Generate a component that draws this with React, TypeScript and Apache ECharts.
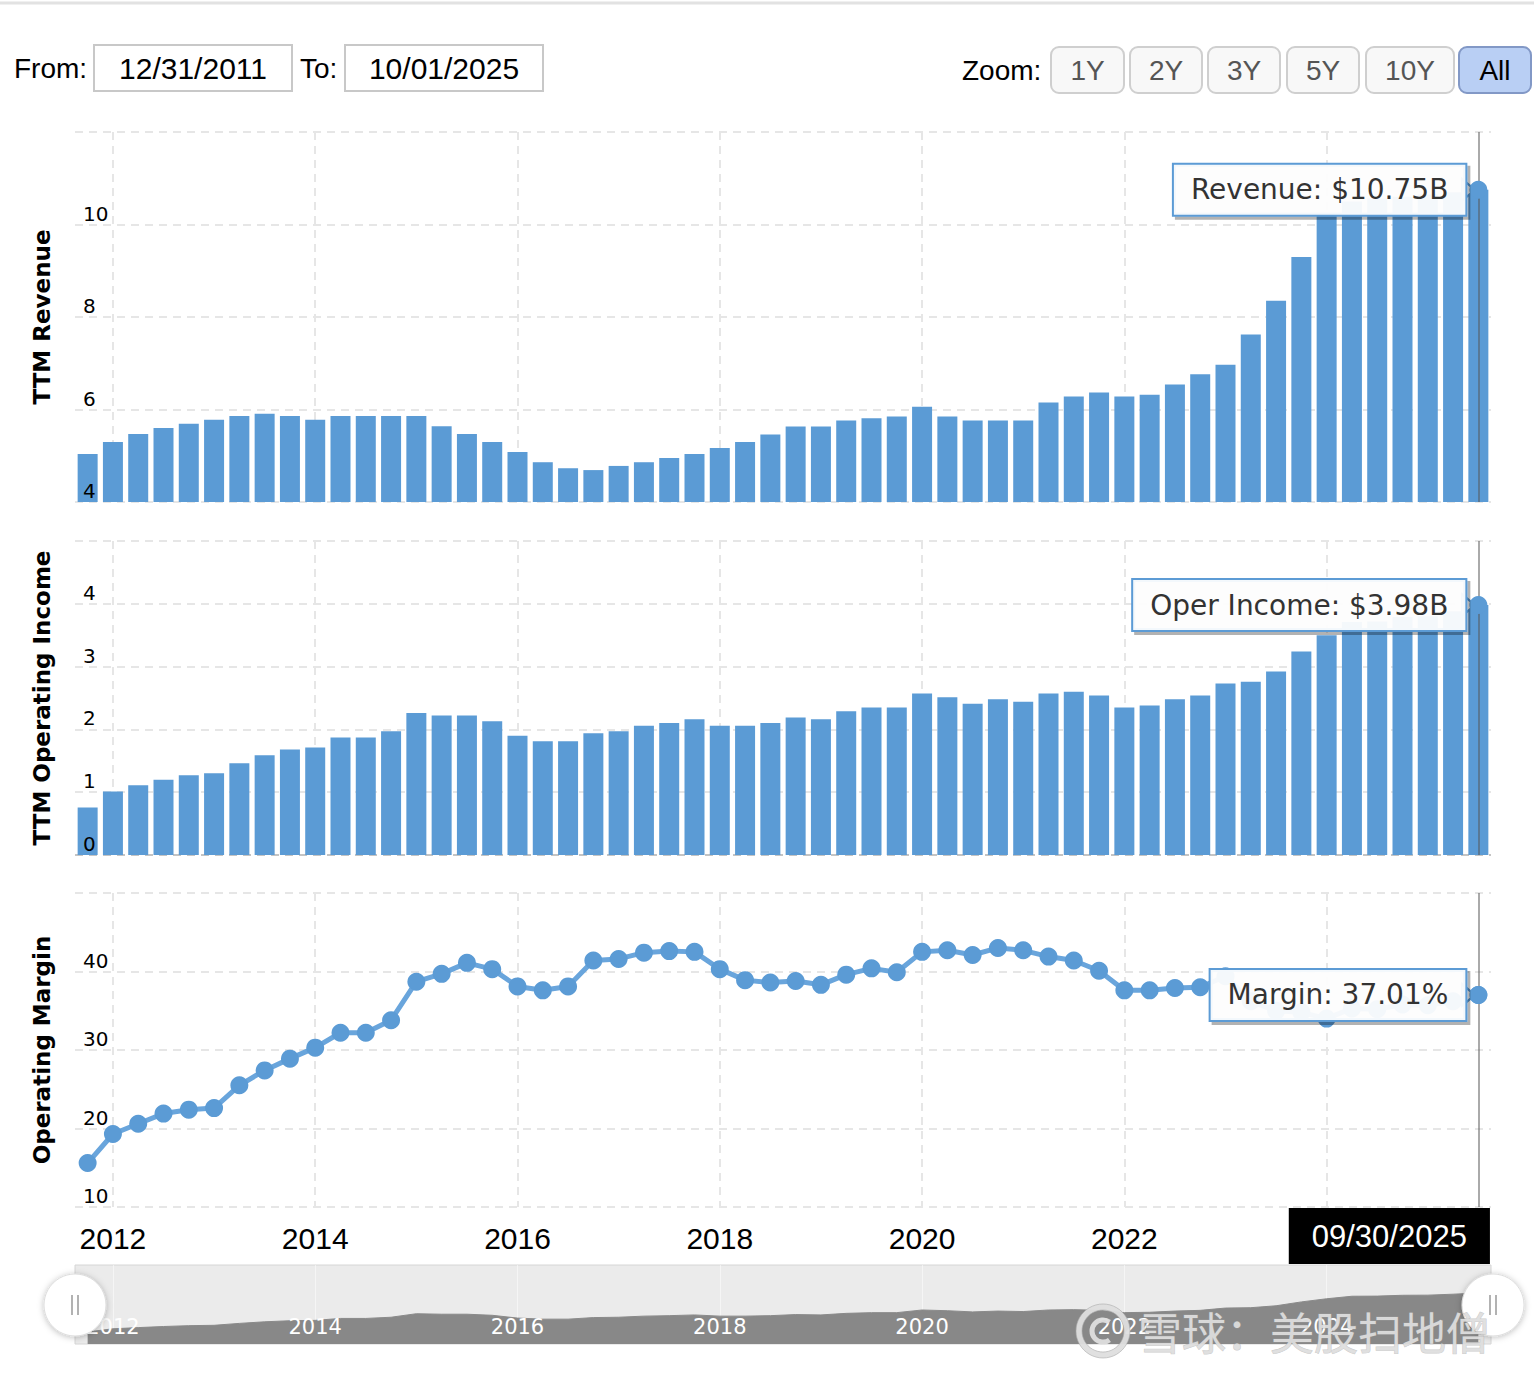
import React, { useEffect, useRef } from 'react';
import * as echarts from 'echarts';

// ---- Data ----
const quarterEnds: string[] = (() => {
  const out: string[] = ['12/31/2011'];
  for (let y = 2012; y <= 2025; y++) {
    for (const md of ['03/31', '06/30', '09/30', '12/31']) {
      if (y === 2025 && md === '12/31') break;
      out.push(`${md}/${y}`);
    }
  }
  return out;
})();

// TTM revenue, $B
const revenue = [
  5.04, 5.30, 5.47, 5.60, 5.69, 5.78, 5.86, 5.91, 5.86, 5.78,
  5.86, 5.86, 5.86, 5.86, 5.64, 5.47, 5.30, 5.08, 4.86, 4.73,
  4.69, 4.78, 4.86, 4.95, 5.04, 5.17, 5.30, 5.46, 5.63, 5.63,
  5.76, 5.81, 5.85, 6.06, 5.85, 5.76, 5.76, 5.76, 6.15, 6.28,
  6.37, 6.28, 6.32, 6.54, 6.76, 6.97, 7.62, 8.35, 9.30, 10.22,
  10.50, 10.56, 10.60, 10.65, 10.70, 10.75,
];

// TTM operating income, $B
const operatingIncome = [
  0.755, 1.01, 1.11, 1.20, 1.27, 1.30, 1.46, 1.59, 1.68, 1.71,
  1.87, 1.87, 1.97, 2.26, 2.22, 2.22, 2.13, 1.90, 1.81, 1.81,
  1.94, 1.97, 2.06, 2.10, 2.16, 2.06, 2.06, 2.10, 2.19, 2.16,
  2.29, 2.35, 2.35, 2.57, 2.51, 2.41, 2.48, 2.44, 2.57, 2.60,
  2.54, 2.35, 2.38, 2.48, 2.54, 2.73, 2.76, 2.92, 3.24, 3.50,
  3.71, 3.72, 3.79, 3.80, 3.88, 3.98,
];

// Operating margin, %
const operatingMargin = [
  15.6, 19.3, 20.6, 21.9, 22.4, 22.6, 25.5, 27.4, 28.9, 30.3,
  32.2, 32.2, 33.8, 38.7, 39.7, 41.1, 40.3, 38.1, 37.6, 38.1,
  41.4, 41.6, 42.4, 42.6, 42.5, 40.3, 38.9, 38.6, 38.8, 38.3,
  39.6, 40.4, 39.9, 42.5, 42.7, 42.1, 43.0, 42.7, 41.9, 41.4,
  40.1, 37.6, 37.6, 37.9, 38.0, 39.4, 36.2, 35.0, 34.8, 34.0,
  35.3, 35.2, 35.8, 35.7, 36.2, 37.01,
];

const panelAxes = [
  { name: 'TTM Revenue', min: 4, max: 12, interval: 2 },
  { name: 'TTM Operating Income', min: 0, max: 5, interval: 1 },
  { name: 'Operating Margin', min: 10, max: 50, interval: 10 },
];

const rangeFrom = '12/31/2011';
const rangeTo = '10/01/2025';
const zoomButtons = ['1Y', '2Y', '3Y', '5Y', '10Y', 'All'];
const watermark = '雪球：美股扫地僧';

// ---- Styles ----
const BLUE = '#5b9bd5';
const LINE_BLUE = '#69a5dc';
const GRID_COLOR = '#e6e6e6';
const LABEL_FONT = 'DejaVu Sans, Verdana, sans-serif';
const UI_FONT = 'Liberation Sans, Arial, sans-serif';
const CJK_FONT = 'Noto Sans CJK SC, sans-serif';

const isYearTick = (i: number) => i % 8 === 1;

function calloutLabel(text: string, distance: number) {
  return {
    show: true,
    position: 'left',
    distance,
    formatter: text,
    fontFamily: LABEL_FONT,
    fontSize: 28,
    lineHeight: 32,
    color: '#333',
    backgroundColor: 'rgba(255,255,255,0.93)',
    borderColor: BLUE,
    borderWidth: 2,
    padding: [9, 17, 9, 17],
    shadowColor: 'rgba(0,0,0,0.3)',
    shadowBlur: 0,
    shadowOffsetX: 3,
    shadowOffsetY: 3,
  };
}

function buildOption() {
  const last = quarterEnds.length - 1;
  const lastCat = quarterEnds[last];
  const halfSteps = Array.from({ length: quarterEnds.length * 2 + 1 }, (_, i) => `h${i}`);

  const grids = [
    { left: 75, right: 43, top: 132, height: 370 },
    { left: 75, right: 43, top: 541, height: 314 },
    { left: 75, right: 43, top: 893, height: 314 },
    {
      left: 75, right: 43, top: 1265, height: 79, show: true,
      backgroundColor: '#ebebeb', borderWidth: 1, borderColor: '#d6d6d6',
    },
  ];

  const mainX = [0, 1, 2, 3].map((g) => ({
    type: 'category',
    gridIndex: g,
    data: quarterEnds,
    boundaryGap: true,
    z: g === 3 ? 5 : 0,
    axisLine: { show: false },
    axisTick: { show: false },
    splitLine: { show: false },
    axisLabel:
      g === 2
        ? {
            show: true, interval: (i: number) => isYearTick(i),
            formatter: (v: string) => v.slice(-4),
            fontFamily: UI_FONT, fontSize: 30, color: '#000', margin: 16,
          }
        : g === 3
        ? {
            show: true, inside: true, interval: (i: number) => isYearTick(i),
            formatter: (v: string) => v.slice(-4),
            fontFamily: LABEL_FONT, fontSize: 21, color: '#fff', margin: 7,
          }
        : { show: false },
  }));

  const splitX = [0, 1, 2, 3].map((g) => ({
    type: 'category',
    gridIndex: g,
    data: halfSteps,
    boundaryGap: false,
    position: 'bottom',
    axisLine: { show: false },
    axisTick: { show: false },
    axisLabel: { show: false },
    splitLine: {
      show: true,
      interval: (i: number) => i % 16 === 3,
      lineStyle:
        g === 3
          ? { color: 'rgba(255,255,255,0.5)', width: 1 }
          : { color: GRID_COLOR, width: 2, type: [8, 6] },
    },
  }));

  const gridY = panelAxes.map((a, i) => ({
    type: 'value',
    gridIndex: i,
    min: a.min,
    max: a.max,
    interval: a.interval,
    startValue: a.min,
    name: a.name,
    nameLocation: 'middle',
    nameRotate: 90,
    nameGap: 22,
    nameTextStyle: { fontFamily: LABEL_FONT, fontWeight: 'bold', fontSize: 23, color: '#000' },
    axisLine: { show: false },
    axisTick: { show: false },
    axisLabel: { show: false },
    splitLine: {
      show: true,
      lineStyle: {
        color: i === 1 ? ['#c4c4c4', GRID_COLOR, GRID_COLOR, GRID_COLOR, GRID_COLOR, GRID_COLOR] : GRID_COLOR,
        width: 2,
        type: [8, 6],
      },
    },
  }));

  const navY = { type: 'value', gridIndex: 3, min: -0.25, max: 6.3, show: false };

  const labelY = panelAxes.map((a, i) => ({
    type: 'value',
    gridIndex: i,
    min: a.min,
    max: a.max,
    interval: a.interval,
    position: 'left',
    z: 10,
    axisLine: { show: false },
    axisTick: { show: false },
    splitLine: { show: false },
    axisLabel: {
      inside: true, margin: 8, fontFamily: LABEL_FONT, fontSize: 20, color: '#000',
      verticalAlign: 'bottom', showMaxLabel: false, padding: [0, 0, 1, 0],
    },
  }));

  const crosshair = {
    silent: true,
    symbol: ['none', 'none'],
    label: { show: false },
    emphasis: { disabled: true },
    lineStyle: { color: 'rgba(85,85,85,0.5)', width: 2, type: 'solid' },
    data: [{ xAxis: lastCat }],
  };

  const arrowItem = (value: number) => ({
    coord: [lastCat, value],
    symbol: 'triangle',
    symbolRotate: -90,
    symbolSize: [22, 13],
    symbolOffset: [-10, 0],
    itemStyle: { color: '#fff', borderColor: BLUE, borderWidth: 2 },
    label: { show: false },
  });

  const series: any[] = [
    {
      type: 'bar',
      name: 'TTM Revenue',
      xAxisIndex: 0,
      yAxisIndex: 0,
      data: revenue,
      barWidth: 20,
      itemStyle: { color: BLUE },
      markLine: crosshair,
      markPoint: {
        silent: true,
        data: [
          arrowItem(revenue[last]),
          {
            coord: [lastCat, revenue[last]],
            symbol: 'circle',
            symbolSize: 18,
            itemStyle: { color: BLUE },
            label: calloutLabel(`Revenue: $${revenue[last].toFixed(2)}B`, 4),
          },
        ],
      },
    },
    {
      type: 'bar',
      name: 'TTM Operating Income',
      xAxisIndex: 1,
      yAxisIndex: 1,
      data: operatingIncome,
      barWidth: 20,
      itemStyle: { color: BLUE },
      markLine: crosshair,
      markPoint: {
        silent: true,
        data: [
          arrowItem(operatingIncome[last]),
          {
            coord: [lastCat, operatingIncome[last]],
            symbol: 'circle',
            symbolSize: 18,
            itemStyle: { color: BLUE },
            label: calloutLabel(`Oper Income: $${operatingIncome[last].toFixed(2)}B`, 4),
          },
        ],
      },
    },
    {
      type: 'line',
      name: 'Operating Margin',
      xAxisIndex: 2,
      yAxisIndex: 2,
      data: operatingMargin,
      symbol: 'circle',
      symbolSize: 18,
      showAllSymbol: true,
      itemStyle: { color: BLUE },
      lineStyle: { color: LINE_BLUE, width: 5 },
      markLine: crosshair,
      markPoint: {
        silent: true,
        data: [
          arrowItem(operatingMargin[last]),
          {
            coord: [lastCat, operatingMargin[last]],
            symbol: 'circle',
            symbolSize: 18,
            itemStyle: { color: BLUE },
            label: calloutLabel(`Margin: ${operatingMargin[last].toFixed(2)}%`, 4),
          },
          {
            coord: [lastCat, panelAxes[2].min],
            symbol: 'rect',
            symbolSize: 2,
            itemStyle: { color: 'rgba(0,0,0,0)' },
            label: {
              show: true,
              position: 'bottom',
              distance: 0,
              offset: [-89, 0],
              formatter: lastCat,
              fontFamily: UI_FONT,
              fontSize: 31,
              lineHeight: 34,
              color: '#fff',
              backgroundColor: '#000',
              padding: [11, 23, 11, 23],
            },
          },
        ],
      },
    },
    {
      type: 'line',
      name: 'navigator',
      xAxisIndex: 3,
      yAxisIndex: 3,
      data: operatingIncome,
      symbol: 'none',
      silent: true,
      lineStyle: { color: '#8a8a8a', width: 1 },
      areaStyle: { color: '#888888', opacity: 1, origin: 'start' },
    },
  ];

  // header + navigator handles + watermark
  const btnX = [1051, 1130, 1208, 1287, 1366, 1459];
  const btnW = [73, 72, 72, 72, 88, 72];
  const graphic: any[] = [
    { type: 'line', shape: { x1: 0, y1: 3, x2: 1534, y2: 3 }, style: { stroke: '#e2e2e2', lineWidth: 3 } },
    { type: 'text', x: 14, y: 68, style: { text: 'From:', fontFamily: UI_FONT, fontSize: 28, fill: '#000', verticalAlign: 'middle' } },
    { type: 'rect', shape: { x: 94, y: 45, width: 198, height: 46 }, style: { fill: '#fff', stroke: '#c8c8c8', lineWidth: 2 } },
    { type: 'text', x: 193, y: 68, style: { text: rangeFrom, fontFamily: UI_FONT, fontSize: 30, fill: '#000', align: 'center', verticalAlign: 'middle' } },
    { type: 'text', x: 300, y: 68, style: { text: 'To:', fontFamily: UI_FONT, fontSize: 28, fill: '#000', verticalAlign: 'middle' } },
    { type: 'rect', shape: { x: 345, y: 45, width: 198, height: 46 }, style: { fill: '#fff', stroke: '#c8c8c8', lineWidth: 2 } },
    { type: 'text', x: 444, y: 68, style: { text: rangeTo, fontFamily: UI_FONT, fontSize: 30, fill: '#000', align: 'center', verticalAlign: 'middle' } },
    { type: 'text', x: 962, y: 70, style: { text: 'Zoom:', fontFamily: UI_FONT, fontSize: 28, fill: '#000', verticalAlign: 'middle' } },
  ];
  zoomButtons.forEach((b, i) => {
    const active = b === 'All';
    graphic.push({
      type: 'rect',
      shape: { x: btnX[i], y: 47, width: btnW[i], height: 46, r: 8 },
      style: { fill: active ? '#b9cff4' : '#f8f8f8', stroke: active ? '#8298c6' : '#cfcfcf', lineWidth: 2 },
    });
    graphic.push({
      type: 'text',
      x: btnX[i] + btnW[i] / 2,
      y: 70,
      style: { text: b, fontFamily: UI_FONT, fontSize: 28, fill: active ? '#000' : '#555', align: 'center', verticalAlign: 'middle' },
    });
  });
  [75, 1493].forEach((cx) => {
    graphic.push({
      type: 'circle',
      z: 50,
      shape: { cx, cy: 1305, r: 31 },
      style: { fill: '#fff', stroke: '#dddddd', lineWidth: 1, shadowBlur: 6, shadowColor: 'rgba(0,0,0,0.25)', shadowOffsetY: 1 },
    });
    [-3, 3].forEach((dx) => {
      graphic.push({
        type: 'line',
        z: 51,
        shape: { x1: cx + dx, y1: 1295, x2: cx + dx, y2: 1315 },
        style: { stroke: '#999', lineWidth: 1.5 },
      });
    });
  });
  graphic.push({
    type: 'ring',
    z: 60,
    shape: { cx: 1103, cy: 1331, r: 27, r0: 21 },
    style: { fill: 'rgba(222,222,222,0.95)', stroke: 'rgba(170,170,170,0.6)', lineWidth: 1 },
  });
  graphic.push({
    type: 'arc',
    z: 60,
    shape: { cx: 1103, cy: 1331, r: 11, startAngle: Math.PI * 0.3, endAngle: Math.PI * 1.7 },
    style: { stroke: 'rgba(222,222,222,0.95)', lineWidth: 5, fill: 'none' },
  });
  graphic.push({
    type: 'text',
    z: 60,
    x: 1138,
    y: 1331,
    style: {
      text: watermark, fontFamily: CJK_FONT, fontSize: 44, fill: 'rgba(222,222,222,0.95)',
      stroke: 'rgba(160,160,160,0.55)', lineWidth: 1, verticalAlign: 'middle',
    },
  });

  return {
    animation: false,
    backgroundColor: '#fff',
    grid: grids,
    xAxis: [...mainX, ...splitX],
    yAxis: [...gridY, navY, ...labelY],
    series,
    graphic,
  };
}

export default function App() {
  const ref = useRef<HTMLDivElement>(null);
  useEffect(() => {
    if (!ref.current) return;
    const chart = echarts.init(ref.current, undefined, { renderer: 'svg' });
    chart.setOption(buildOption() as any);
    return () => chart.dispose();
  }, []);
  return (
    <div
      ref={ref}
      style={{ position: 'absolute', left: 0, top: 0, width: 1534, height: 1380, background: '#fff' }}
    />
  );
}
